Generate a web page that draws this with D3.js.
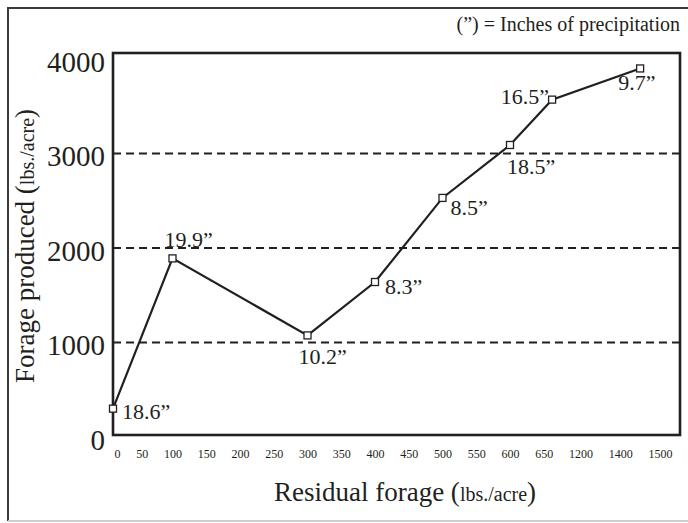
<!DOCTYPE html>
<html><head><meta charset="utf-8">
<script src="https://cdn.jsdelivr.net/npm/d3@7"></script>
<style>
html,body{margin:0;padding:0;background:#fff;}
svg{display:block;font-family:"Liberation Serif","Times New Roman",Times,serif;}
</style>
</head><body>
<svg id="chart" width="688" height="523"></svg>
<script>
// ---- data ----
const xTickValues = [0,50,100,150,200,250,300,350,400,450,500,550,600,650,1200,1400,1500];
const yTickValues = [0,1000,2000,3000,4000];
const gridValues = [1000,2000,3000];
const residualForage = [0,100,300,400,500,600,775,1450];
const forageProduced = [300,1890,1075,1640,2530,3090,3570,3900];
const precipLabels = ["18.6\u201D","19.9\u201D","10.2\u201D","8.3\u201D","8.5\u201D","18.5\u201D","16.5\u201D","9.7\u201D"];

// ---- layout (label placement relative to each marker) ----
const labelPlacement = [
  {anchor:"start", dx:9,  dy:10},
  {anchor:"start", dx:-8, dy:-11},
  {anchor:"start", dx:-9, dy:29},
  {anchor:"start", dx:10, dy:12},
  {anchor:"start", dx:8,  dy:17},
  {anchor:"start", dx:-3, dy:29},
  {anchor:"end",   dx:-3, dy:4},
  {anchor:"start", dx:-22,dy:22}
];

const ink = "#231f20";
const frame = {left:113, right:680, top:53, bottom:435};
const svg = d3.select("#chart");

// outer border
svg.append("line").attr("x1",8).attr("x2",688).attr("y1",8).attr("y2",8)
  .attr("stroke","#3a3a3a").attr("stroke-width",2);
svg.append("line").attr("x1",8).attr("x2",8).attr("y1",7).attr("y2",521)
  .attr("stroke","#3a3a3a").attr("stroke-width",2);
svg.append("line").attr("x1",8).attr("x2",688).attr("y1",521).attr("y2",521)
  .attr("stroke","#cfcfcf").attr("stroke-width",2);

// scales
const y = d3.scaleLinear().domain([0,4000]).range([437,59]);

// x tick labels flow like a typed row of numbers
const xFont = 12, xGap = 15.75, xStart = 114;
const meas = svg.append("text").style("font-size", xFont+"px").attr("visibility","hidden");
let cursor = xStart;
const labelCenters = [];
xTickValues.forEach(v => {
  meas.text(String(v));
  const w = meas.node().getComputedTextLength();
  labelCenters.push(cursor + w/2);
  cursor += w + xGap;
});
meas.remove();
const xLabelScale = d3.scaleLinear().domain(xTickValues).range(labelCenters);
const markCenters = labelCenters.slice(); markCenters[0] = frame.left;
const x = d3.scaleLinear().domain(xTickValues).range(markCenters);

// gridlines
svg.append("g").selectAll("line").data(gridValues).join("line")
  .attr("x1",frame.left).attr("x2",frame.right)
  .attr("y1",d=>y(d)).attr("y2",d=>y(d))
  .attr("stroke",ink).attr("stroke-width",2).attr("stroke-dasharray","8,5");

// frame
svg.append("rect").attr("x",frame.left).attr("y",frame.top)
  .attr("width",frame.right-frame.left).attr("height",frame.bottom-frame.top)
  .attr("fill","none").attr("stroke",ink).attr("stroke-width",2.6);

// x axis
const gx = svg.append("g").attr("transform","translate(0,458)")
  .call(d3.axisBottom(xLabelScale).tickValues(xTickValues).tickSize(0).tickPadding(0).tickFormat(d3.format("d")));
gx.select(".domain").remove();
gx.selectAll("text").attr("y",0).attr("dy",0).attr("fill",ink)
  .style("font-size",xFont+"px").style("font-family",'"Liberation Serif",serif');

// y axis
const gy = svg.append("g").attr("transform","translate(105,0)")
  .call(d3.axisLeft(y).tickValues(yTickValues).tickSize(0).tickPadding(0).tickFormat(d3.format("d")));
gy.select(".domain").remove();
gy.selectAll("text").attr("dy","0.42em").attr("fill",ink)
  .style("font-size","29px").style("font-family",'"Liberation Serif",serif');

// series
const pts = residualForage.map((r,i)=>({r, p:forageProduced[i], lab:precipLabels[i], pl:labelPlacement[i]}));
svg.append("path").datum(pts)
  .attr("d", d3.line().x(d=>x(d.r)).y(d=>y(d.p)))
  .attr("fill","none").attr("stroke",ink).attr("stroke-width",2.2).attr("stroke-linejoin","miter");
svg.append("g").selectAll("rect").data(pts).join("rect")
  .attr("x",d=>x(d.r)-3.5).attr("y",d=>y(d.p)-3.5).attr("width",7).attr("height",7)
  .attr("fill","#fff").attr("stroke",ink).attr("stroke-width",1.3);
svg.append("g").selectAll("text").data(pts).join("text")
  .attr("x",d=>x(d.r)+d.pl.dx).attr("y",d=>y(d.p)+d.pl.dy)
  .attr("text-anchor",d=>d.pl.anchor).attr("fill",ink)
  .style("font-size","22px").text(d=>d.lab);

// x title
const xt = svg.append("text").attr("x",405).attr("y",501).attr("text-anchor","middle").attr("fill",ink);
xt.append("tspan").style("font-size","27px").text("Residual forage (");
xt.append("tspan").style("font-size","20px").text("lbs./acre");
xt.append("tspan").style("font-size","27px").text(")");

// y title
const yt = svg.append("text").attr("transform","translate(34,246) rotate(-90)")
  .attr("text-anchor","middle").attr("fill",ink);
yt.append("tspan").style("font-size","27px").text("Forage produced (");
yt.append("tspan").style("font-size","20px").text("lbs./acre");
yt.append("tspan").style("font-size","27px").text(")");

// note
svg.append("text").attr("x",680).attr("y",31).attr("text-anchor","end").attr("fill",ink)
  .style("font-size","20px").text("(\u201D) = Inches of precipitation");
</script>
</body></html>
